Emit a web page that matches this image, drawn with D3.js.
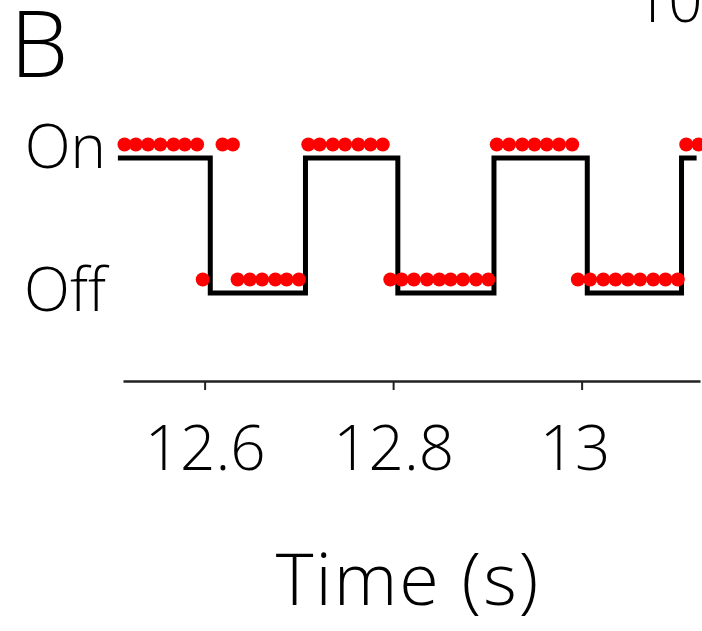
<!DOCTYPE html>
<html>
<head>
<meta charset="utf-8">
<script src="https://cdn.jsdelivr.net/npm/d3@7"></script>
<style>
  html, body { margin: 0; padding: 0; background: #fff; }
  svg { display: block; }
  text { font-family: "Open Sans", "DejaVu Sans", sans-serif; font-weight: 300; fill: #000; }
</style>
</head>
<body>
<svg id="chart" width="702" height="631"></svg>
<script>
// Stimulus state (square wave): times of each level change, and the level after it
const stepTimes  = [12.508, 12.606, 12.707, 12.805, 12.907, 13.006, 13.106, 13.122];
const stepStates = [1, 0, 1, 0, 1, 0, 1, 1];

// Decoded state per sample (red dots)
const sampleTimes = [
  12.515, 12.527, 12.540, 12.553, 12.567, 12.579, 12.592,
  12.598,
  12.619, 12.630,
  12.635, 12.648, 12.661, 12.675, 12.687, 12.700,
  12.710, 12.722, 12.736, 12.749, 12.763, 12.776, 12.789,
  12.797, 12.809, 12.822, 12.836, 12.849, 12.861, 12.874, 12.888, 12.901,
  12.910, 12.923, 12.937, 12.950, 12.963, 12.976, 12.990,
  12.996, 13.009, 13.023, 13.036, 13.049, 13.062, 13.076, 13.089, 13.102,
  13.111, 13.124
];
const sampleStates = [
  1, 1, 1, 1, 1, 1, 1,
  0,
  1, 1,
  0, 0, 0, 0, 0, 0,
  1, 1, 1, 1, 1, 1, 1,
  0, 0, 0, 0, 0, 0, 0, 0, 0,
  1, 1, 1, 1, 1, 1, 1,
  0, 0, 0, 0, 0, 0, 0, 0, 0,
  1, 1
];

const xTicks = [12.6, 12.8, 13.0];
const xTickLabels = ["12.6", "12.8", "13"];
const stateLabels = ["Off", "On"];

const svg = d3.select("#chart");

const x = d3.scaleLinear().domain([12.5134, 13.1256]).range([123, 700]);
const y = d3.scaleLinear().domain([0, 1]).range([293, 158]);

// Panel letter
svg.append("text").attr("x", 10).attr("y", 77)
  .style("font-size", "93px").text("B");

// Partially visible label from the neighbouring panel
svg.append("text").attr("x", 634).attr("y", 22)
  .style("font-size", "60px").text("10");

// Square-wave stimulus
const stepData = stepTimes.map((t, i) => ({ t, s: stepStates[i] }));
const line = d3.line().curve(d3.curveStepAfter)
  .x(d => x(d.t)).y(d => y(d.s));
svg.append("path").datum(stepData)
  .attr("d", line)
  .attr("fill", "none")
  .attr("stroke", "#000")
  .attr("stroke-width", 5)
  .attr("stroke-linejoin", "miter");

// Decoded samples, drawn slightly above each level
const dotLift = 0.1;
svg.append("g").selectAll("circle")
  .data(sampleTimes.map((t, i) => ({ t, s: sampleStates[i] })))
  .join("circle")
  .attr("cx", d => x(d.t))
  .attr("cy", d => y(d.s + dotLift))
  .attr("r", 7)
  .attr("fill", "#ff0000");

// State labels
svg.append("text").attr("x", 106).attr("y", y(1) + 10)
  .attr("text-anchor", "end").style("font-size", "60px").text(stateLabels[1]);
svg.append("text").attr("x", 106).attr("y", y(0) + 18)
  .attr("text-anchor", "end").style("font-size", "60px").text(stateLabels[0]);

// Time axis
const axis = d3.axisBottom(x)
  .tickValues(xTicks)
  .tickFormat((d, i) => xTickLabels[i])
  .tickSize(9)
  .tickSizeOuter(0)
  .tickPadding(36);
const gAxis = svg.append("g").attr("transform", "translate(0,381)").call(axis);
gAxis.select(".domain").attr("stroke", "#222").attr("stroke-width", 2.4);
gAxis.selectAll(".tick line").attr("stroke", "#222").attr("stroke-width", 2);
gAxis.selectAll(".tick text")
  .style("font-family", "'Open Sans', 'DejaVu Sans', sans-serif")
  .style("font-weight", 300)
  .style("font-size", "62px").attr("fill", "#000");
// the integer label sits a little left of its tick
gAxis.selectAll(".tick text").filter(d => d === 13.0).attr("dx", -7);

// Axis title
svg.append("text").attr("x", 408).attr("y", 605)
  .attr("text-anchor", "middle").style("font-size", "72px")
  .style("letter-spacing", "2px").text("Time (s)");
</script>
</body>
</html>
